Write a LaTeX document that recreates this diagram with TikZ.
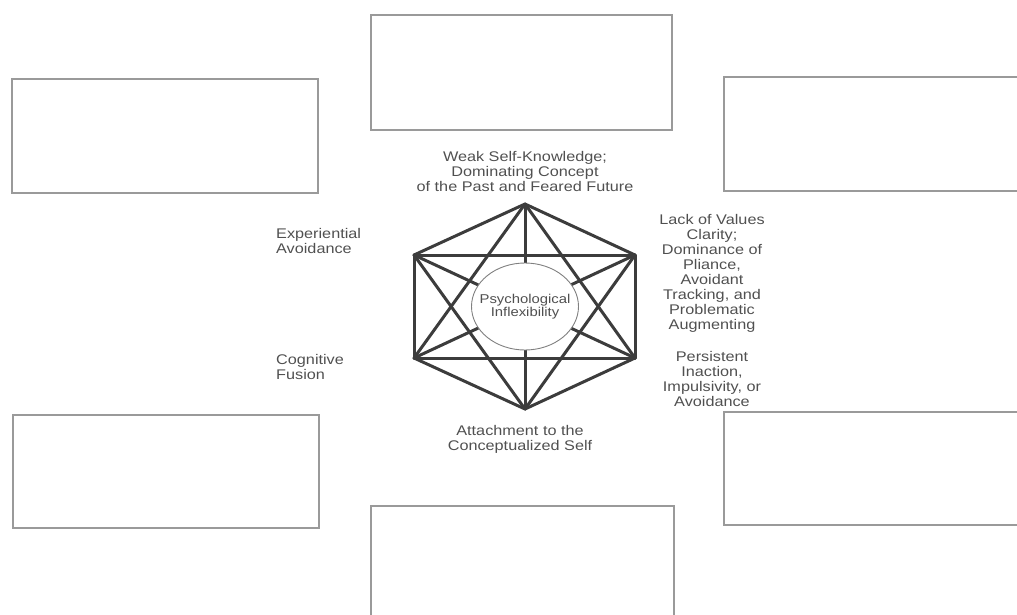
\documentclass[tikz,border=0pt]{standalone}
\usepackage{fontspec}
\setmainfont[FakeStretch=1.16]{Liberation Sans}
\definecolor{inkgray}{HTML}{505050}
\definecolor{edgegray}{HTML}{3C3C3C}
\definecolor{boxgray}{HTML}{9A9A9A}
\tikzset{
  box/.style={draw=boxgray, line width=1.6pt},
  edge/.style={draw=edgegray, line width=3pt, line cap=round},
  label/.style={text=inkgray, align=center, inner sep=0pt, font=\fontsize{14}{15}\selectfont},
  core/.style={text=inkgray, align=center, inner sep=0pt, font=\fontsize{12.8}{13.5}\selectfont}
}
\begin{document}
\begin{tikzpicture}[x=1pt,y=-1pt]
\useasboundingbox (0,0) rectangle (1017,614);
\clip (0,0) rectangle (1017,614);
\draw[box] (371,15) rectangle (672,130);
\draw[box] (12,79) rectangle (318,193);
\draw[box] (724,77) rectangle (1030,191);
\draw[box] (13,415) rectangle (319,528);
\draw[box] (724,412) rectangle (1030,525);
\draw[box] (371,506) rectangle (674,640);
\coordinate (t) at (525,204);
\coordinate (ur) at (635,255);
\coordinate (lr) at (635,358);
\coordinate (b) at (525,409);
\coordinate (ll) at (414,358);
\coordinate (ul) at (414,255);
\foreach \p/\q in {t/ur,t/lr,t/b,t/ll,t/ul,ur/lr,ur/b,ur/ll,ur/ul,lr/b,lr/ll,lr/ul,b/ll,b/ul,ll/ul}
  \draw[edge] (\p) -- (\q);
\filldraw[fill=white, draw=gray, line width=0.9pt] (525,306.5) ellipse [x radius=53.5pt, y radius=43.5pt];
\node (core) [core] at (525,306.5) {Psychological\\Inflexibility};
\node (self) [label] at (525,171) {Weak Self-Knowledge;\\Dominating Concept\\of the Past and Feared Future};
\node (values) [label] at (712,273) {Lack of Values\\Clarity;\\Dominance of\\Pliance,\\Avoidant\\Tracking, and\\Problematic\\Augmenting};
\node (action) [label] at (712,378.5) {Persistent\\Inaction,\\Impulsivity, or\\Avoidance};
\node (avoid) [label, anchor=west, align=left] at (276,241) {Experiential\\Avoidance};
\node (fusion) [label, anchor=west, align=left] at (276,367) {Cognitive\\Fusion};
\node (attach) [label] at (520,439) {Attachment to the\\Conceptualized Self};
\end{tikzpicture}
\end{document}
